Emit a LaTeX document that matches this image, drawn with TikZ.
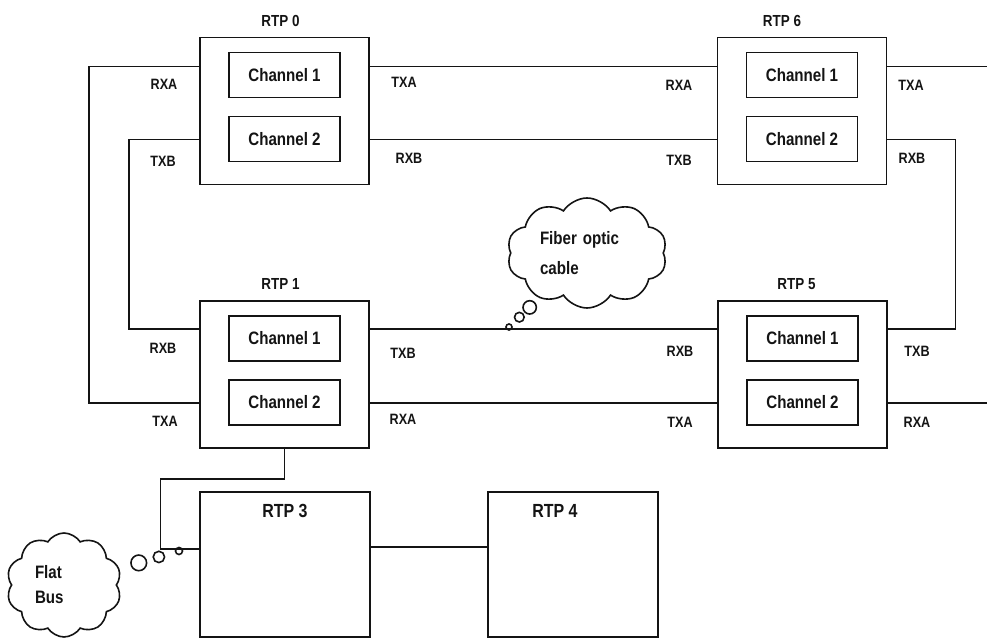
\documentclass[tikz,border=0pt]{standalone}
\usepackage{fontspec}
\setmainfont{Liberation Sans}[FakeStretch=0.84]
\usepackage{tikz}
\usetikzlibrary{positioning,shapes.symbols,shapes.callouts}
\definecolor{ink}{HTML}{141414}
\tikzset{
  rtp/.style={rectangle, draw=ink, line width=0.8pt, inner sep=0pt,
              minimum width=84.5pt, minimum height=73.5pt},
  chan/.style={rectangle, draw=ink, line width=0.8pt, text=ink,
               minimum width=55.5pt, minimum height=22.5pt,
               font=\bfseries\fontsize{9}{10}\selectfont},
  tag/.style={font=\bfseries\fontsize{8}{9}\selectfont, text=ink, inner sep=1pt},
  port/.style={font=\bfseries\fontsize{7.5}{9}\selectfont, text=ink, inner sep=1pt},
  wire/.style={draw=ink, line width=0.8pt},
  thought/.style={cloud callout, cloud puffs=10, cloud puff arc=115,
                  cloud ignores aspect, draw=ink, line width=0.8pt, inner sep=0pt,
                  align=left, text=ink, callout pointer segments=3}
}

\begin{document}
\begin{tikzpicture}[x=0.5pt, y=-0.5pt]
  \useasboundingbox (0,0) rectangle (987,640);
  % the four ring nodes, two channels each
  \node[rtp] (r0) at (284.5,111) {};
  \node[rtp] (r6) at (802,111) {};
  \node[rtp] (r1) at (284.5,374.5) {};
  \node[rtp] (r5) at (802.5,374.5) {};
  \foreach \b in {r0,r6,r1,r5}{
    \node[chan] (\b-c1) at ([yshift=18pt]\b.center) {Channel 1};
    \node[chan] (\b-c2) at ([yshift=-14pt]\b.center) {Channel 2};
  }
  \node[tag, above=4pt of r0, xshift=-2pt] (t0) {RTP 0};
  \node[tag, above=4pt of r6, xshift=-10pt] (t6) {RTP 6};
  \node[tag, above=4pt of r1, xshift=-2pt] (t1) {RTP 1};
  \node[tag, above=4pt of r5, xshift=-3pt] (t5) {RTP 5};
  \foreach \b/\s/\x/\y in {r0/RXA/164/84, r0/TXB/163/161, r0/TXA/404/82, r0/RXB/409/158,
                           r6/RXA/679/85, r6/TXB/679/160, r6/TXA/911/85, r6/RXB/912/158,
                           r1/RXB/163/348, r1/TXA/165/421, r1/TXB/403/353, r1/RXA/403/419,
                           r5/RXB/680/351, r5/TXA/680/422, r5/TXB/917/351, r5/RXA/917/422}
    \node[port] (\b\s) at (\x,\y) {\s};

  % fibre ring
  \path ([yshift=-15pt]r6.north east) ++(50pt,0) coordinate (eA);
  \path ([yshift=-51.5pt]r5.north east) ++(50pt,0) coordinate (eB);
  \draw[wire] ([yshift=-15pt]r0.north west) -- ++(-55pt,0) |- ([yshift=-51.5pt]r1.north west);
  \draw[wire] ([yshift=-51.5pt]r0.north west) -- ++(-35pt,0) |- ([yshift=-14.5pt]r1.north west);
  \draw[wire] ([yshift=-15pt]r0.north east) -- ([yshift=-15pt]r6.north west);
  \draw[wire] ([yshift=-51.5pt]r0.north east) -- ([yshift=-51.5pt]r6.north west);
  \draw[wire] ([yshift=-15pt]r6.north east) -- (eA);
  \draw[wire] ([yshift=-51.5pt]r6.north east) -- ++(34pt,0) |- ([yshift=-14.5pt]r5.north east);
  \draw[wire] ([yshift=-14.5pt]r1.north east) -- ([yshift=-14.5pt]r5.north west);
  \draw[wire] ([yshift=-51.5pt]r1.north east) -- ([yshift=-51.5pt]r5.north west);
  \draw[wire] ([yshift=-51.5pt]r5.north east) -- (eB);

  % flat bus part
  \node[rtp, minimum width=85pt, minimum height=72.5pt] (r3) at (285,564.5) {};
  \node[rtp, minimum width=85pt, minimum height=72.5pt] (r4) at (573,564.5) {};
  \node[tag, font=\bfseries\fontsize{9.5}{10}\selectfont, below=5.5pt of r3.north] (t3) {RTP 3};
  \node[tag, font=\bfseries\fontsize{9.5}{10}\selectfont, below=5.5pt of r4.north, xshift=-9pt] (t4) {RTP 4};
  \draw[wire] (r1.south) -- ++(0,-15pt) -- ++(-62pt,0) |- ([yshift=-29pt]r3.north west);
  \draw[wire] ([yshift=-28pt]r3.north east) -- ([yshift=-28pt]r4.north west);

  % thought clouds
  \coordinate (tipF) at (509,327);
  \coordinate (tipB) at (179,551);
  \node[thought, minimum width=80pt, minimum height=55pt, text width=47pt,
        font=\bfseries\fontsize{9}{15}\selectfont,
        callout absolute pointer={(tipF)},
        callout pointer start size=13pt and 8.5pt,
        callout pointer end size=4pt and 3pt] (fiber) at (587,253) {Fiber optic\\cable};
  \node[thought, minimum width=57.5pt, minimum height=52pt, text width=29pt,
        font=\bfseries\fontsize{9}{12.5}\selectfont,
        callout absolute pointer={(tipB)},
        callout pointer start size=9.5pt and 10pt,
        callout pointer end size=4pt and 3.5pt] (flat) at (64,585) {Flat\\Bus};
\end{tikzpicture}
\end{document}
